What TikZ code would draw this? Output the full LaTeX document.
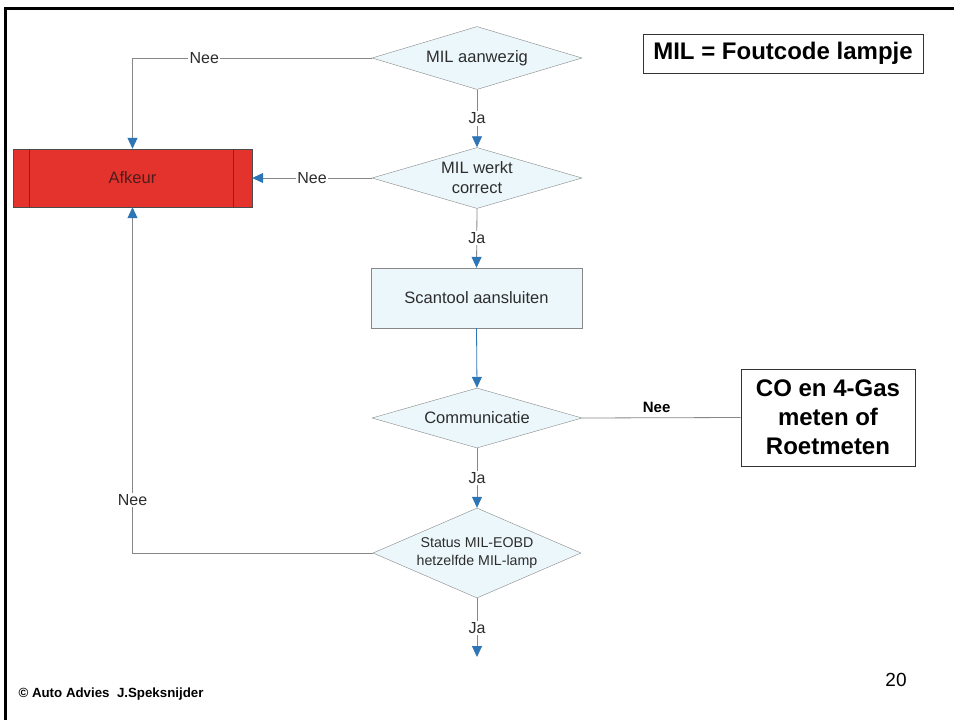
\documentclass[tikz,border=0pt]{standalone}
\usepackage{fontspec}
\setmainfont{Liberation Sans}
\usetikzlibrary{shapes.geometric,arrows.meta}
\definecolor{ruitblauw}{RGB}{236,247,252}
\definecolor{pijlblauw}{RGB}{46,117,182}
\definecolor{lijngrijs}{RGB}{135,135,135}
\definecolor{afkeurrood}{RGB}{228,50,44}
\definecolor{tekstgrijs}{RGB}{45,45,45}
\tikzset{
    punktruit/.style={
           diamond,
           aspect=3.3,
           draw=lijngrijs, fill=ruitblauw,
           inner sep=1pt,
           minimum width=210pt,
           minimum height=63pt,
           align=center, text=tekstgrijs,
           font=\fontsize{16.5}{20}\selectfont},
    punktstap/.style={
           rectangle,
           draw=lijngrijs, fill=ruitblauw,
           minimum width=211pt,
           minimum height=60pt,
           text=tekstgrijs,
           font=\fontsize{16.5}{20}\selectfont},
    punktafkeur/.style={
           rectangle,
           draw=black!70, fill=afkeurrood,
           minimum width=239pt,
           minimum height=58pt,
           text={rgb,255:red,80;green,28;blue,28},
           font=\fontsize{16.5}{20}\selectfont},
    punktkader/.style={
           rectangle,
           draw=black!80, thick,
           inner sep=0pt,
           align=center,
           font=\bfseries\fontsize{24}{29}\selectfont},
    lijn/.style={draw=lijngrijs, line width=0.8pt},
    pijl/.style={lijn, -{Triangle[length=11pt,width=10pt,color=pijlblauw]}},
    label_l/.style={fill=white, inner sep=1.5pt, text=tekstgrijs,
           font=\fontsize{16}{19}\selectfont}
    }
\begin{document}
\begin{tikzpicture}[x=1pt,y=-1pt]
\useasboundingbox (0,0) rectangle (954,720);
% kader
\draw[line width=3pt] (5.5,720) -- (5.5,8.5) -- (954,8.5);

\node[punktruit] (mil) at (477,58) {MIL aanwezig};
\node[punktruit, minimum height=61pt] (werkt) at (477,178) {MIL werkt\\correct};
\node[punktstap] (scan) at (476.5,298) {Scantool aansluiten};
\node[punktruit, minimum height=60pt] (comm) at (477,418) {Communicatie};
\node[punktruit, aspect=2.2, minimum width=208pt, minimum height=90pt,
      font=\fontsize{14.2}{18.5}\selectfont] (status) at (477,553) {Status MIL-EOBD\\hetzelfde MIL-lamp};
\node[punktafkeur] (afkeur) at (132.5,178) {Afkeur};
\draw[black!75, thin] ([xshift=16.5pt]afkeur.north west) -- ([xshift=16.5pt]afkeur.south west);
\draw[black!75, thin] ([xshift=-19pt]afkeur.north east) -- ([xshift=-19pt]afkeur.south east);

\node[punktkader, minimum width=174pt, minimum height=97pt] (gas) at (828,417.5) {CO en 4-Gas\\meten of\\Roetmeten};
\node[punktkader, minimum width=280pt, minimum height=39pt] (legenda) at (783,53.5) {MIL = Foutcode lampje};

\coordinate (einde) at (477,657);

% verbindingen
\draw[pijl] (mil.west) -| node[label_l, pos=0.35] {Nee} (afkeur.north);
\draw[pijl] (werkt.west) -- node[label_l] {Nee} (afkeur.east);
\draw[pijl] (mil.south) -- node[label_l] {Ja} (werkt.north);
\draw[pijl] (werkt.south) -- node[label_l] {Ja} (scan.north);
\draw[pijl, draw=pijlblauw] (scan.south) -- (comm.north);
\draw[lijn] (comm.east) -- node[above=1pt, pos=0.47, font=\bfseries\fontsize{15}{18}\selectfont] {Nee} (gas.west);
\draw[pijl] (comm.south) -- node[label_l] {Ja} (status.north);
\draw[pijl] (status.west) -| node[label_l, pos=0.577] {Nee} (afkeur.south);
\draw[pijl] (status.south) -- node[label_l] {Ja} (einde);

\node[anchor=west, font=\bfseries\fontsize{13.3}{16}\selectfont] (copy) at (15,694) {© Auto Advies\ \ J.Speksnijder};
\node[font=\fontsize{19}{22}\selectfont] (pagina) at (896,680) {20};
\end{tikzpicture}
\end{document}
